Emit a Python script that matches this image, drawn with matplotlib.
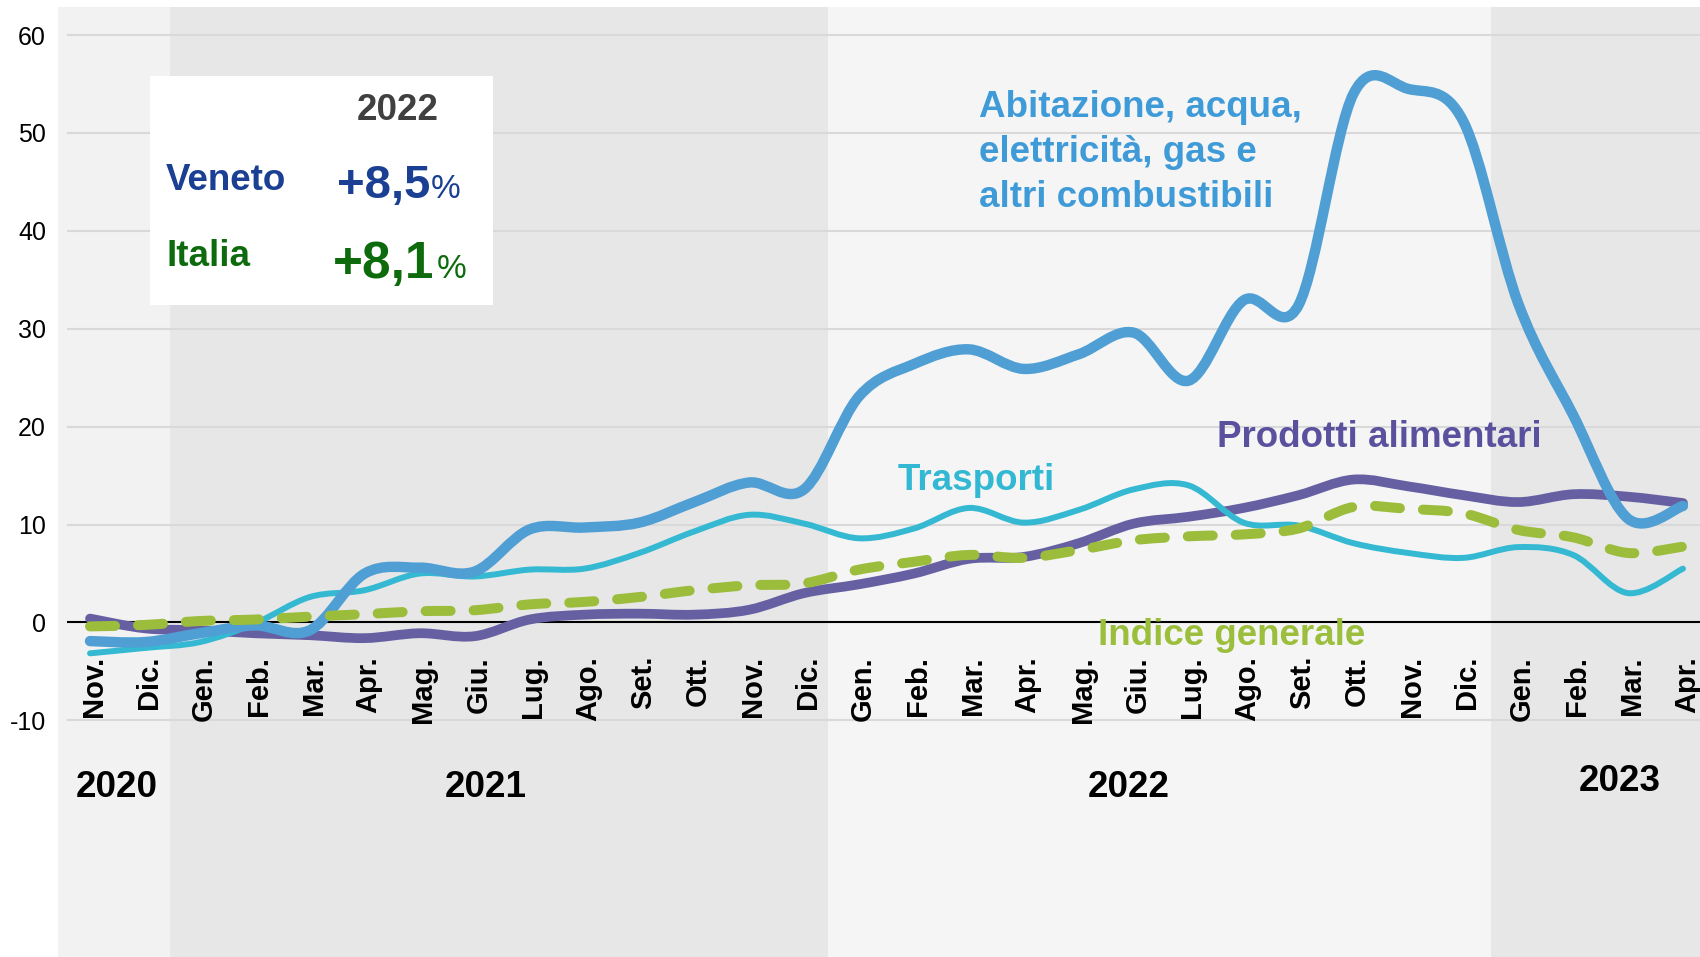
import numpy as np
import matplotlib
matplotlib.use("Agg")
import matplotlib.pyplot as plt
from matplotlib.path import Path
from matplotlib.patches import PathPatch, Rectangle

plt.rcParams['font.family'] = ['Liberation Sans', 'DejaVu Sans']

# mesi da nov. 2020 ad apr. 2023
mesi = ['Nov.', 'Dic.',
        'Gen.', 'Feb.', 'Mar.', 'Apr.', 'Mag.', 'Giu.', 'Lug.', 'Ago.', 'Set.', 'Ott.', 'Nov.', 'Dic.',
        'Gen.', 'Feb.', 'Mar.', 'Apr.', 'Mag.', 'Giu.', 'Lug.', 'Ago.', 'Set.', 'Ott.', 'Nov.', 'Dic.',
        'Gen.', 'Feb.', 'Mar.', 'Apr.']
anni = ['2020', '2021', '2022', '2023']

abitazione = [-1.9, -2.0, -1.1, -0.3, -0.8, 5.0, 5.6, 5.2, 9.5, 9.7,
              10.2, 12.3, 14.3, 13.6, 23.1, 26.4, 27.9, 25.9, 27.4, 29.6,
              24.7, 32.9, 32.4, 54.0, 54.5, 51.2, 32.6, 21.2, 10.6, 11.9]
trasporti = [-3.15, -2.6, -2.0, -0.1, 2.6, 3.3, 5.0, 4.7, 5.4, 5.5,
             7.1, 9.3, 11.0, 10.1, 8.6, 9.6, 11.7, 10.2, 11.5, 13.6,
             14.0, 10.2, 9.9, 8.1, 7.1, 6.6, 7.7, 6.9, 3.0, 5.5]
alimentari = [0.4, -0.6, -0.8, -1.1, -1.3, -1.6, -1.1, -1.4, 0.3, 0.8,
              0.9, 0.8, 1.3, 3.0, 3.9, 5.0, 6.5, 6.7, 8.1, 10.1,
              10.8, 11.7, 13.0, 14.6, 13.9, 13.0, 12.3, 13.1, 12.85, 12.2]
indice = [-0.4, -0.25, 0.15, 0.3, 0.6, 0.85, 1.15, 1.25, 1.85, 2.1,
          2.6, 3.3, 3.8, 4.0, 5.4, 6.2, 6.9, 6.6, 7.4, 8.4,
          8.8, 9.0, 9.6, 11.8, 11.6, 11.15, 9.45, 8.7, 7.1, 7.75]

yticks = [-10, 0, 10, 20, 30, 40, 50, 60]

c_abit = '#4f9fd4'
c_trasp = '#35b9d3'
c_alim = '#6660a3'
c_ind = '#9bbd3b'


def smooth_path(xs, ys):
    # curva tipo "linea smussata" di Excel (Catmull-Rom -> Bezier)
    pts = np.column_stack([xs, ys]).astype(float)
    ext = np.vstack([pts[0], pts, pts[-1]])
    verts = [pts[0]]
    codes = [Path.MOVETO]
    for k in range(len(pts) - 1):
        p0, p1, p2, p3 = ext[k], ext[k + 1], ext[k + 2], ext[k + 3]
        verts += [p1 + (p2 - p0) / 6, p2 - (p3 - p1) / 6, p2]
        codes += [Path.CURVE4] * 3
    return Path(verts, codes)


x = np.arange(len(mesi))

fig = plt.figure(figsize=(17, 9.57), dpi=100)
ax = fig.add_axes([58 / 1700, 0, 1642 / 1700, 950 / 957])
ax.set_xlim(-0.583, 29.31)
ax.set_ylim(-34.17, 62.87)
for s in ax.spines.values():
    s.set_visible(False)
ax.patch.set_visible(False)

# fasce degli anni
ax.axvspan(-0.583, 1.45, color='#f2f2f2', lw=0, zorder=0)
ax.axvspan(1.45, 13.43, color='#e7e7e7', lw=0, zorder=0)
ax.axvspan(13.43, 25.5, color='#f5f5f5', lw=0, zorder=0)
ax.axvspan(25.5, 29.31, color='#e7e7e7', lw=0, zorder=0)

# griglia
for yv in yticks:
    if yv == 0:
        ax.hlines(yv, -0.42, 29.31, color='black', lw=1.5, zorder=1)
    else:
        ax.hlines(yv, -0.42, 29.31, color='#d9d9d9', lw=1.5, zorder=1)

ax.set_xticks([])
ax.set_yticks(yticks)
ax.set_yticklabels([str(v) for v in yticks])
ax.tick_params(axis='y', length=0, pad=8.6, labelsize=18, labelcolor='black')

# serie
ax.add_patch(PathPatch(smooth_path(x, alimentari), fill=False, edgecolor=c_alim,
                       lw=7, capstyle='round', joinstyle='round', zorder=3))
ax.add_patch(PathPatch(smooth_path(x, trasporti), fill=False, edgecolor=c_trasp,
                       lw=4.3, capstyle='round', joinstyle='round', zorder=4))
ax.add_patch(PathPatch(smooth_path(x, abitazione), fill=False, edgecolor=c_abit,
                       lw=7.5, capstyle='round', joinstyle='round', zorder=5))
ax.add_patch(PathPatch(smooth_path(x, indice), fill=False, edgecolor=c_ind,
                       lw=7.2, linestyle=(0, (2.5, 2.3)), capstyle='round',
                       joinstyle='round', zorder=6))

# etichette delle serie
abit_righe = ['Abitazione, acqua,', 'elettricità, gas e', 'altri combustibili']
for k, riga in enumerate(abit_righe):
    ax.text(16.18, 51.63 - 4.6 * k, riga, color='#3f9bd8', fontsize=26.5,
            fontweight='bold', ha='left', va='baseline', zorder=7)
ax.text(16.13, 13.53, 'Trasporti', color='#33b8d3', fontsize=26.5,
        fontweight='bold', ha='center', va='baseline', zorder=7)
ax.text(23.47, 17.9, 'Prodotti alimentari', color='#5a519e', fontsize=26.5,
        fontweight='bold', ha='center', va='baseline', zorder=7)
ax.text(20.78, -2.3, 'Indice generale', color='#9bbf3c', fontsize=26.5,
        fontweight='bold', ha='center', va='baseline', zorder=7)

# mesi
for i, m in enumerate(mesi):
    ax.text(i + 0.07, -3.42, m, rotation=90, ha='center', va='top', fontsize=21,
            fontweight='bold', color='black', zorder=7)

# anni
anni_x = [0.49, 7.21, 18.91, 27.84]
anni_y = [-17.8, -17.8, -17.8, -17.26]
for a, xa, ya in zip(anni, anni_x, anni_y):
    ax.text(xa, ya, a, ha='center', va='baseline', fontsize=26.5,
            fontweight='bold', color='black', zorder=7)

# riquadro 2022
ax.add_patch(Rectangle((1.085, 32.46), 7.34 - 1.085, 55.83 - 32.46,
                       facecolor='white', edgecolor='none', zorder=8))
ax.text(5.61, 51.33, '2022', color='#404040', fontsize=26.5, fontweight='bold',
        ha='center', va='baseline', zorder=9)
ax.text(1.378, 44.18, 'Veneto', color='#1a3f93', fontsize=26.5, fontweight='bold',
        ha='left', va='baseline', zorder=9)
ax.text(6.19, 43.33, '+8,5', color='#1a3f93', fontsize=34, fontweight='bold',
        ha='right', va='baseline', zorder=9)
ax.text(6.2, 43.33, '%', color='#1a3f93', fontsize=24,
        ha='left', va='baseline', zorder=9)
ax.text(1.396, 36.45, 'Italia', color='#0d6b0d', fontsize=26.5, fontweight='bold',
        ha='left', va='baseline', zorder=9)
ax.text(6.26, 35.16, '+8,1', color='#0d6b0d', fontsize=37, fontweight='bold',
        ha='right', va='baseline', zorder=9)
ax.text(6.31, 35.16, '%', color='#0d6b0d', fontsize=24,
        ha='left', va='baseline', zorder=9)

fig.savefig('out.png', dpi=100, facecolor='white')
